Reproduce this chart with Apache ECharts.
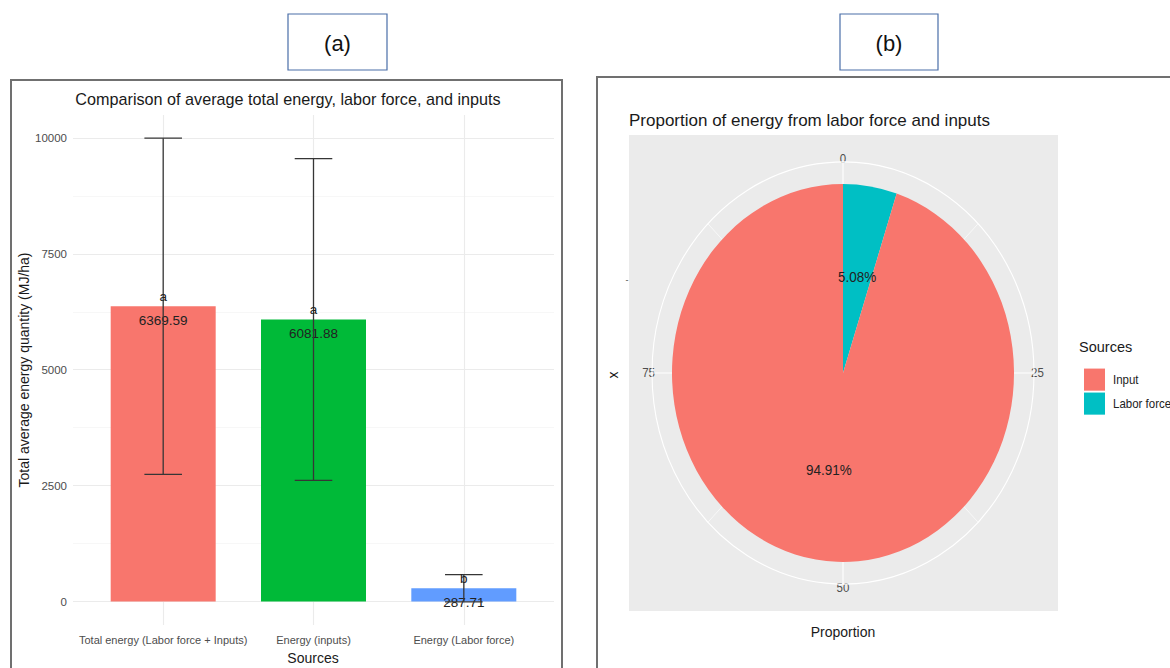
<!DOCTYPE html>
<html>
<head>
<meta charset="utf-8">
<title>Energy from labor force and inputs</title>
<script src="https://cdn.jsdelivr.net/npm/echarts@6.0.0/dist/echarts.min.js"></script>
<style>
  html, body { margin: 0; padding: 0; background: #fff; }
  .layer { position: absolute; left: 0; top: 0; width: 1170px; height: 668px; }
  /* the pie panel in the source figure is stretched vertically */
  #pie { transform-origin: 843px 373px; transform: scaleY(1.105); pointer-events: none; }
</style>
</head>
<body>
<div id="chart" class="layer"></div>
<div id="pie" class="layer"></div>
<script>
// (a) bar chart data
const sources = ['Total energy (Labor force + Inputs)', 'Energy (inputs)', 'Energy (Labor force)'];
const energyMeans = [6369.59, 6081.88, 287.71];
const energySd = [3625, 3470, 294];
const groupLetters = ['a', 'a', 'b'];
const yTicks = [0, 2500, 5000, 7500, 10000];
const yMinorTicks = [1250, 3750, 6250, 8750];

// (b) pie data
const shareNames = ['Labor force', 'Input'];
const shareValues = [5.08, 94.91];
const legendOrder = ['Input', 'Labor force'];
const angleTicks = [0, 25, 50, 75];

const barColors = ['#F8766D', '#00BA38', '#619CFF'];
const shareColors = { 'Input': '#F8766D', 'Labor force': '#00BFC4' };
const FONT = '"Liberation Sans", Arial, sans-serif';

const chart = echarts.init(document.getElementById('chart'), null, { renderer: 'svg' });
const pieChart = echarts.init(document.getElementById('pie'), null, { renderer: 'svg' });

// 误差线 + 显著性字母
function renderErrorBar(params, api) {
  const x = api.value(0);
  const lo = api.coord([x, api.value(1)]);
  const hi = api.coord([x, api.value(2)]);
  const top = api.coord([x, api.value(3)]);
  const capL = api.coord([x - 0.125, 0])[0];
  const capR = api.coord([x + 0.125, 0])[0];
  const style = { stroke: '#363636', lineWidth: 1.3 };
  return {
    type: 'group',
    children: [
      { type: 'line', shape: { x1: lo[0], y1: lo[1], x2: hi[0], y2: hi[1] }, style },
      { type: 'line', shape: { x1: capL, y1: hi[1], x2: capR, y2: hi[1] }, style },
      { type: 'line', shape: { x1: capL, y1: lo[1], x2: capR, y2: lo[1] }, style },
      {
        type: 'text',
        style: {
          text: groupLetters[params.dataIndex], x: top[0], y: top[1] - 10,
          align: 'center', verticalAlign: 'middle',
          fontSize: 13.5, fontFamily: FONT, fill: '#222'
        }
      }
    ]
  };
}

const gridLines = [
  ...yTicks.map(v => ({ yAxis: v, lineStyle: { color: '#EBEBEB', width: 1.1 } })),
  ...yMinorTicks.map(v => ({ yAxis: v, lineStyle: { color: '#F2F2F2', width: 0.6 } })),
  ...sources.map((s, i) => ({ xAxis: i + 1, lineStyle: { color: '#EBEBEB', width: 1.1 } }))
];

const option = {
  animation: false,
  textStyle: { fontFamily: FONT },
  grid: { left: 73, top: 115, width: 481, height: 510 },
  xAxis: {
    type: 'value', min: 0.4, max: 3.6,
    axisLine: { show: false }, axisTick: { show: false }, splitLine: { show: false },
    axisLabel: {
      customValues: sources.map((s, i) => i + 1),
      formatter: v => sources[Math.round(v) - 1],
      color: '#4D4D4D', fontSize: 11, margin: 9
    }
  },
  yAxis: {
    type: 'value', min: -506, max: 10495,
    axisLine: { show: false }, axisTick: { show: false }, splitLine: { show: false },
    axisLabel: { customValues: yTicks, formatter: v => String(v), color: '#4D4D4D', fontSize: 11.5, margin: 6 }
  },
  series: [
    {
      name: 'energy',
      type: 'bar',
      barWidth: 105,
      z: 2,
      data: energyMeans.map((m, i) => ({ value: [i + 1, m], itemStyle: { color: barColors[i] } })),
      label: {
        show: true, position: 'insideTop', distance: 7,
        formatter: p => p.value[1].toFixed(2),
        color: '#222', fontSize: 13.5
      },
      markLine: {
        z: 0, silent: true, symbol: 'none', label: { show: false },
        lineStyle: { type: 'solid' },
        data: gridLines
      }
    },
    {
      name: 'error',
      type: 'custom',
      z: 3,
      renderItem: renderErrorBar,
      encode: { x: 0, y: [1, 2, 3] },
      data: energyMeans.map((m, i) => [i + 1, m - energySd[i], m + energySd[i], m])
    }
  ],
  graphic: {
    elements: [
      // panel frames
      { type: 'rect', z: 0, shape: { x: 11, y: 80, width: 551, height: 640 },
        style: { fill: 'none', stroke: '#707070', lineWidth: 2 } },
      { type: 'rect', z: 0, shape: { x: 597, y: 77, width: 620, height: 640 },
        style: { fill: 'none', stroke: '#707070', lineWidth: 2 } },
      // (a) / (b) boxes
      { type: 'rect', z: 0, shape: { x: 288, y: 14, width: 99, height: 56 },
        style: { fill: '#fff', stroke: '#4a6ea8', lineWidth: 1.2 } },
      { type: 'rect', z: 0, shape: { x: 840, y: 14, width: 98, height: 56 },
        style: { fill: '#fff', stroke: '#4a6ea8', lineWidth: 1.2 } },
      { type: 'text', z: 1, x: 337.5, y: 43,
        style: { text: '(a)', fontSize: 22, fontFamily: FONT, fill: '#111', align: 'center', verticalAlign: 'middle' } },
      { type: 'text', z: 1, x: 889, y: 43,
        style: { text: '(b)', fontSize: 22, fontFamily: FONT, fill: '#111', align: 'center', verticalAlign: 'middle' } },
      // (a) titles
      { type: 'text', z: 1, x: 288, y: 99,
        style: { text: 'Comparison of average total energy, labor force, and inputs', fontSize: 16.2, fontFamily: FONT, fill: '#1a1a1a', align: 'center', verticalAlign: 'middle' } },
      { type: 'text', z: 1, x: 313, y: 658,
        style: { text: 'Sources', fontSize: 14, fontFamily: FONT, fill: '#1a1a1a', align: 'center', verticalAlign: 'middle' } },
      { type: 'text', z: 1, x: 24, y: 370, rotation: Math.PI / 2,
        style: { text: 'Total average energy quantity (MJ/ha)', fontSize: 14, fontFamily: FONT, fill: '#1a1a1a', align: 'center', verticalAlign: 'middle' } },
      // (b) panel background and titles
      { type: 'rect', z: -1, shape: { x: 629, y: 135, width: 429, height: 476 },
        style: { fill: '#EBEBEB' } },
      { type: 'text', z: 1, x: 629, y: 120,
        style: { text: 'Proportion of energy from labor force and inputs', fontSize: 17, fontFamily: FONT, fill: '#1a1a1a', align: 'left', verticalAlign: 'middle' } },
      { type: 'text', z: 1, x: 843, y: 632,
        style: { text: 'Proportion', fontSize: 14, fontFamily: FONT, fill: '#1a1a1a', align: 'center', verticalAlign: 'middle' } },
      { type: 'text', z: 1, x: 613, y: 375, rotation: Math.PI / 2,
        style: { text: 'x', fontSize: 14, fontFamily: FONT, fill: '#1a1a1a', align: 'center', verticalAlign: 'middle' } },
      { type: 'text', z: 1, x: 627, y: 280,
        style: { text: '-', fontSize: 9, fontFamily: FONT, fill: '#4D4D4D', align: 'center', verticalAlign: 'middle' } },
      { type: 'text', z: 1, x: 1079, y: 347,
        style: { text: 'Sources', fontSize: 14.5, fontFamily: FONT, fill: '#1a1a1a', align: 'left', verticalAlign: 'middle' } }
    ]
  }
};

// pie layer, drawn circular then stretched by CSS like the source figure
const pieOption = {
  animation: false,
  backgroundColor: 'transparent',
  textStyle: { fontFamily: FONT },
  polar: { center: [843, 373], radius: 191 },
  angleAxis: {
    type: 'value', min: 0, max: 100, interval: 25, startAngle: 90, clockwise: true,
    axisLine: { lineStyle: { color: '#fff', width: 1.1 } },
    axisTick: { show: false },
    minorTick: { show: false, splitNumber: 2 },
    axisLabel: {
      formatter: v => (angleTicks.includes(v) ? String(v) : ''),
      color: '#4D4D4D', fontSize: 11.5, margin: -3
    },
    splitLine: { lineStyle: { color: '#fff', width: 1.1 } },
    minorSplitLine: { show: true, lineStyle: { color: '#fff', width: 0.6 } }
  },
  radiusAxis: { type: 'value', min: 0, max: 1, show: false },
  legend: {
    data: legendOrder, orient: 'vertical', left: 1079, top: 364,
    icon: 'rect', itemWidth: 21, itemHeight: 20, itemGap: 1.7,
    textStyle: { fontSize: 11.5, color: '#222', padding: [0, 0, 0, 3] }
  },
  series: [
    {
      name: 'Sources',
      type: 'pie',
      center: [843, 373],
      radius: 171,
      startAngle: 90,
      clockwise: true,
      z: 2,
      emphasis: { disabled: true },
      labelLine: { show: false },
      label: {
        show: true, position: 'inside', formatter: '{c}%',
        color: '#222', fontSize: 13.5
      },
      data: shareNames.map((n, i) => ({ name: n, value: shareValues[i], itemStyle: { color: shareColors[n] } }))
    }
  ]
};

chart.setOption(option);
pieChart.setOption(pieOption);
</script>
</body>
</html>
